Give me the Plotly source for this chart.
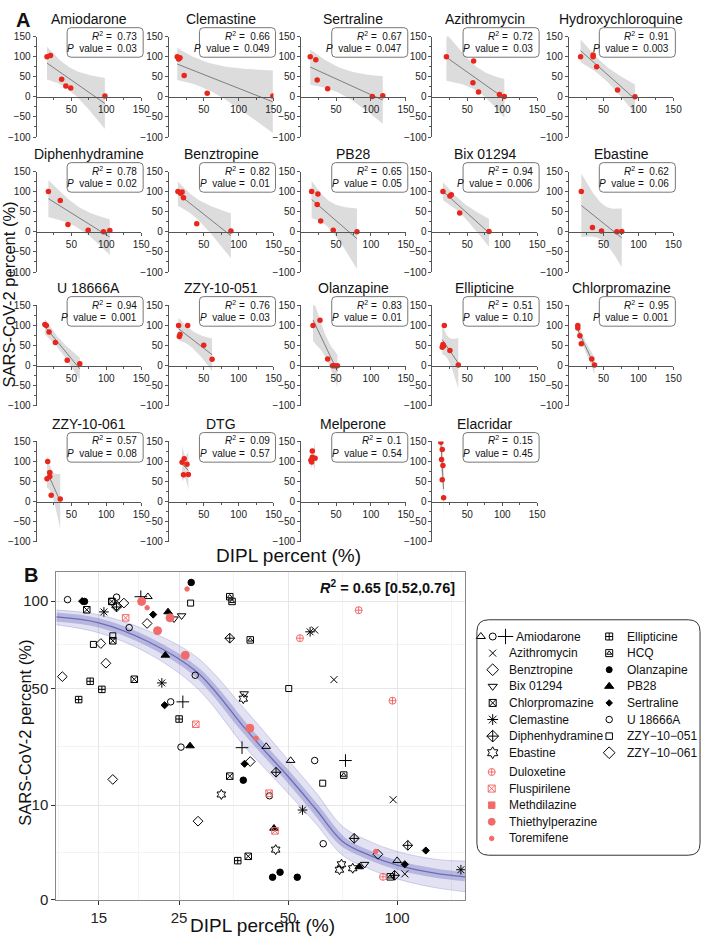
import numpy as np
import plotly.graph_objects as go

W, H = 712, 945
FONT = "Liberation Sans, Arial, sans-serif"

# ---------------- Panel A data ----------------
drugs_a = ['Amiodarone', 'Clemastine', 'Sertraline', 'Azithromycin', 'Hydroxychloroquine',
           'Diphenhydramine', 'Benztropine', 'PB28', 'Bix 01294', 'Ebastine',
           'U 18666A', 'ZZY-10-051', 'Olanzapine', 'Ellipticine', 'Chlorpromazine',
           'ZZY-10-061', 'DTG', 'Melperone', 'Elacridar']
dipl_a = [[15, 20, 36, 42, 49, 98], [12, 14, 16, 22, 55, 149], [13, 21, 23, 38, 102, 117],
          [20, 59, 58, 66, 96, 103], [17, 35, 35, 40, 70, 95],
          [17, 34, 45, 74, 96, 105], [13, 17, 19, 21, 40, 89], [15, 24, 23, 28, 46, 80],
          [15, 25, 27, 39, 81], [18, 34, 47, 69, 76],
          [12, 14, 18, 27, 44, 62], [14, 15, 16, 27, 50, 62], [17, 27, 38, 45, 48, 52],
          [14, 15, 16, 17, 25, 37], [13, 13, 16, 18, 33, 37],
          [16, 19, 19, 15, 21, 34], [19, 22, 26, 21, 28], [16, 14, 15, 16, 20],
          [12, 13, 14, 15, 14, 16]]
sars_a = [[100, 103, 44, 27, 22, 2], [100, 94, 97, 53, 9, 2], [100, 92, 42, 20, 1, 3],
          [100, 89, 35, 12, 6, 1], [100, 104, 100, 75, 17, 0],
          [100, 78, 18, 4, 0, 3], [100, 96, 99, 85, 20, 2], [100, 94, 68, 27, 4, 0],
          [100, 89, 92, 47, 1], [100, 11, 2, 0, 1],
          [103, 100, 84, 58, 14, 5], [100, 73, 78, 100, 51, 16], [100, 113, 17, 0, 0, 0],
          [46, 53, 49, 100, 38, 2], [100, 94, 75, 55, 17, 2],
          [100, 73, 63, 57, 16, 7], [98, 107, 93, 67, 68], [126, 103, 99, 111, 108],
          [148, 105, 130, 90, 55, 10]]
r2_a = ['0.73', '0.66', '0.67', '0.72', '0.91', '0.78', '0.82', '0.65', '0.94', '0.62',
        '0.94', '0.76', '0.83', '0.51', '0.95', '0.57', '0.09', '0.1', '0.15']
p_a = ['0.03', '0.049', '0.047', '0.03', '0.003', '0.02', '0.01', '0.05', '0.006', '0.06',
       '0.001', '0.03', '0.01', '0.10', '0.001', '0.08', '0.57', '0.54', '0.45']

# ---------------- Panel B data (DIPL %, SARS-CoV-2 %) ----------------
amio_tri = ([20.5, 43.5, 50.8, 100], [103, 26.3, 21.7, 1.7])
amio_circ = ([23.7, 25.3, 59.2], [43.9, 26.1, 21.7])
amio_plus = ([19.6, 25.6, 37.3, 72.0], [103, 43.9, 25.9, 21.7])
azithro = ([59.2, 66.9, 97.5, 105], [81.6, 54.3, 11.2, 0.74])
benz = ([17.6, 20.4, 39.3, 88.5], [98.7, 85.6, 21.4, 2.3])
bix = ([24.2, 25.4, 37.8, 81.3], [88.5, 90.5, 47.6, 1.4])
chlorpro = ([13.9, 16.3, 16.4, 18.8, 34.5, 38.8], [94.3, 99.8, 75.2, 54.5, 17.1, 2.1])
clemast = ([15.5, 22.4, 54.8, 57.5, 150], [92.9, 52.7, 9.0, 80.5, 1.0])
diphen = ([16.8, 34.5, 46.3, 76.1, 98.4, 107], [96.1, 76.7, 18.2, 4.2, 0.66, 3.3])
ebast = ([32.7, 37.6, 46.2, 69.3, 70.2, 75.4], [12.4, 45.3, 2.8, 1.0, 1.4, 1.1])
ellipt = ([13.2, 14.2, 15.3, 25.0, 36.3], [44.9, 53.5, 49.6, 36.6, 1.7])
hcq = ([34.5, 35.0, 39.3, 71.2, 95.7], [103, 99.8, 75.7, 17.4, 0.58])
olanz = ([13.7, 27.0, 37.6, 45.3, 47.5, 53.0], [99.8, 112.9, 16.0, 0.56, 0.84, 0.56])
pb28 = ([22.9, 23.3, 26.8, 45.7, 78.6], [67.0, 92.9, 26.5, 5.7, 1.2])
sertr = ([13.5, 21.2, 22.8, 37.9, 105, 120], [100, 91.2, 42.4, 20.7, 1.4, 2.7])
u18666a = ([12.3, 16.8, 18.2, 27.7, 44.4, 62.5], [101, 102.7, 83.0, 56.5, 12.1, 3.5])
zzy051 = ([14.5, 16.3, 16.4, 26.9, 50.2, 62.3], [73.1, 99.8, 78.1, 98.7, 50.0, 15.2])
zzy061 = ([11.9, 15.2, 15.7, 16.4, 16.8, 28.2], [55.8, 73.6, 62.7, 16.2, 97.0, 6.9])
dulox = ([53.9, 78.3, 91.4, 97.1], [76.7, 94.0, 0.58, 44.4])
flusp = ([17.8, 27.8, 44.3, 46.0], [89.1, 34.5, 12.7, 5.3])
methd = ([], [])
thieth = ([19.7, 21.8, 23.6, 26.0, 39.2], [99.8, 81.2, 89.1, 67.0, 33.0])
toremif = ([20.4, 26.3, 40.8, 87.3], [95.6, 108.3, 29.2, 2.6])

# fitted curve band
curve_x = [11.45, 15, 20.5, 28, 37.6, 41.7, 50, 59.6, 70.7, 84, 100, 127, 154]
curve_mid = [89.7, 86.0, 74.8, 58.1, 33.7, 26.8, 17.0, 9.2, 3.8, 2.2, 1.33, 0.79, 0.58]
curve_lo = [84.8, 79.9, 68.1, 50.3, 26.8, 21.0, 12.7, 6.5, 2.2, 1.05, 0.48, 0.16, 0.07]
curve_hi = [94.1, 91.1, 81.2, 65.9, 41.4, 33.7, 21.9, 12.9, 6.0, 3.8, 2.6, 1.83, 1.66]

b_xticks = [15, 25, 50, 100]
b_yticks = [0, 10, 50, 100]

RED_A = '#e8261c'
RED_B = '#f26b6b'
T975 = {1: 12.706, 2: 4.303, 3: 3.182, 4: 2.776, 5: 2.571}

fig = go.Figure()


def px_x(x):
    return x / W


def px_y(y):
    return 1 - y / H


def rrect(x0, y0, x1, y1, r, color='#666', width=1):
    p = (f"M {px_x(x0 + r)},{px_y(y0)} L {px_x(x1 - r)},{px_y(y0)} "
         f"Q {px_x(x1)},{px_y(y0)} {px_x(x1)},{px_y(y0 + r)} L {px_x(x1)},{px_y(y1 - r)} "
         f"Q {px_x(x1)},{px_y(y1)} {px_x(x1 - r)},{px_y(y1)} L {px_x(x0 + r)},{px_y(y1)} "
         f"Q {px_x(x0)},{px_y(y1)} {px_x(x0)},{px_y(y1 - r)} L {px_x(x0)},{px_y(y0 + r)} "
         f"Q {px_x(x0)},{px_y(y0)} {px_x(x0 + r)},{px_y(y0)} Z")
    return dict(type='path', path=p, xref='paper', yref='paper',
                line=dict(color=color, width=width))


def fit_band(x, y):
    x = np.array(x, float)
    y = np.array(y, float)
    n = len(x)
    b, a = np.polyfit(x, y, 1)
    xs = np.linspace(x.min(), x.max(), 40)
    res = y - (a + b * x)
    s = np.sqrt((res ** 2).sum() / (n - 2))
    sxx = ((x - x.mean()) ** 2).sum()
    half = T975[n - 2] * s * np.sqrt(1 / n + (xs - x.mean()) ** 2 / sxx)
    yh = a + b * xs
    return xs, yh, yh - half, yh + half


col_px = [37, 171, 305, 438, 576]
row_px = [31, 168, 304, 442]
AW, AH = 106, 102

shapes = []
annots = []


def txt(x, y, t, size, **kw):
    d = dict(x=px_x(x), y=px_y(y), xref='paper', yref='paper', text=t, showarrow=False,
             font=dict(size=size, color='#111'), xanchor='center', yanchor='middle')
    d.update(kw)
    annots.append(d)


for i, name in enumerate(drugs_a):
    r, c = i // 5, i % 5
    n = i + 1
    xa, ya = f'x{n}', f'y{n}'
    x0, y0 = col_px[c], row_px[r]
    xs, yh, lo, hi = fit_band(dipl_a[i], sars_a[i])
    fig.add_trace(go.Scatter(x=xs, y=hi, mode='lines', line=dict(width=0),
                             xaxis=xa, yaxis=ya, hoverinfo='skip', showlegend=False))
    fig.add_trace(go.Scatter(x=xs, y=lo, mode='lines', line=dict(width=0), fill='tonexty',
                             fillcolor='rgba(205,205,205,0.7)',
                             xaxis=xa, yaxis=ya, hoverinfo='skip', showlegend=False))
    fig.add_trace(go.Scatter(x=xs, y=yh, mode='lines', line=dict(color='#666', width=0.8),
                             xaxis=xa, yaxis=ya, hoverinfo='skip', showlegend=False))
    fig.add_trace(go.Scatter(x=dipl_a[i], y=sars_a[i], mode='markers',
                             marker=dict(color=RED_A, size=5.5),
                             xaxis=xa, yaxis=ya, showlegend=False))
    dom_x = [px_x(x0), px_x(x0 + AW)]
    dom_y = [px_y(y0 + AH), px_y(y0)]
    key = '' if n == 1 else str(n)
    fig.layout['xaxis' + key] = dict(
        domain=dom_x, range=[0, 150], anchor='free',
        position=dom_y[0] + 0.4 * (dom_y[1] - dom_y[0]),
        tickvals=[50, 100, 150], ticks='outside', ticklen=3, tickcolor='#555',
        showline=True, linecolor='#555', linewidth=1, showgrid=False, zeroline=False,
        tickfont=dict(size=10, color='#222'),
        minor=dict(tickvals=[25, 75, 125], ticks='outside', ticklen=2, tickcolor='#555'))
    fig.layout['yaxis' + key] = dict(
        domain=dom_y, range=[-100, 150], anchor=xa,
        tickvals=[-100, -50, 0, 50, 100, 150], ticks='outside', ticklen=3, tickcolor='#555',
        showline=True, linecolor='#555', linewidth=1, showgrid=False, zeroline=False,
        tickfont=dict(size=10, color='#222'),
        minor=dict(dtick=25, ticks='outside', ticklen=2, tickcolor='#555'))
    txt(x0 + 53, y0 - 18, name, 14)
    bx0, bx1, by0, by1 = x0 + 31, x0 + 108, y0 - 9, y0 + 21
    shapes.append(rrect(bx0, by0, bx1, by1, 4, '#777', 1))
    txt(bx1 - 4, by0 + 8, f"<i>R</i><sup>2</sup> =  {r2_a[i]}", 10, xanchor='right')
    txt(bx1 - 4, by0 + 21, f"<i>P</i>  value =  {p_a[i]}", 10, xanchor='right')

txt(14, 14, '<b>A</b>', 20, xanchor='left')
txt(9, 293, 'SARS-CoV-2 percent (%)', 16.5, textangle=-90)
txt(292, 558, 'DIPL percent (%)', 19)
txt(22, 578, '<b>B</b>', 20, xanchor='left')
txt(25, 738, 'SARS-CoV-2 percent (%)', 16.5, textangle=-90)
txt(266, 933, 'DIPL percent (%)', 19)
txt(463, 590, '<b><i>R</i><sup>2</sup> = 0.65 [0.52,0.76]</b>', 14.5, xanchor='right')

# ---------------- Panel B ----------------
bx, by = 'x20', 'y20'
fig.add_trace(go.Scatter(x=curve_x, y=np.sqrt(curve_hi), mode='lines',
                         line=dict(color='rgba(120,120,200,0.45)', width=0.7, shape='spline'),
                         xaxis=bx, yaxis=by, hoverinfo='skip', showlegend=False))
fig.add_trace(go.Scatter(x=curve_x, y=np.sqrt(curve_lo), mode='lines', fill='tonexty',
                         fillcolor='rgba(125,125,200,0.22)',
                         line=dict(color='rgba(120,120,200,0.45)', width=0.7, shape='spline'),
                         xaxis=bx, yaxis=by, hoverinfo='skip', showlegend=False))
fig.add_trace(go.Scatter(x=curve_x, y=np.sqrt(curve_mid), mode='lines',
                         line=dict(color='rgba(100,100,185,0.35)', width=9, shape='spline'),
                         xaxis=bx, yaxis=by, hoverinfo='skip', showlegend=False))
fig.add_trace(go.Scatter(x=curve_x, y=np.sqrt(curve_mid), mode='lines',
                         line=dict(color='rgba(90,90,175,0.8)', width=1.3, shape='spline'),
                         xaxis=bx, yaxis=by, hoverinfo='skip', showlegend=False))

b_styles = [
    (amio_tri, 'triangle-up-open', 'black', 7.5),
    (amio_circ, 'circle-open', 'black', 6.5),
    (amio_plus, 'cross-thin-open', 'black', 9),
    (azithro, 'x-thin-open', 'black', 7),
    (benz, 'diamond-open', 'black', 7.5),
    (bix, 'triangle-down-open', 'black', 7.5),
    (chlorpro, 'square-x-open', 'black', 6.5),
    (clemast, 'asterisk-open', 'black', 8),
    (diphen, 'diamond-cross-open', 'black', 7.5),
    (ebast, 'hexagram-open', 'black', 7.5),
    (ellipt, 'square-cross-open', 'black', 6.5),
    (hcq, 'square-open', 'black', 6.5),
    (hcq, 'triangle-up-open', 'black', 4.5),
    (olanz, 'circle', 'black', 6.5),
    (pb28, 'triangle-up', 'black', 7.5),
    (sertr, 'diamond', 'black', 5.5),
    (u18666a, 'circle-open', 'black', 6.5),
    (zzy051, 'square-open', 'black', 6),
    (zzy061, 'diamond-open', 'black', 7.5),
    (dulox, 'circle-cross-open', RED_B, 7),
    (flusp, 'square-x-open', RED_B, 6.5),
    (methd, 'square', RED_B, 6.5),
    (thieth, 'circle', RED_B, 8),
    (toremif, 'circle', RED_B, 4.5),
]
for (xv, yv), sym, col, sz in b_styles:
    fig.add_trace(go.Scatter(x=xv, y=np.sqrt(np.array(yv, float)), mode='markers',
                             marker=dict(symbol=sym, color=col, size=sz,
                                         line=dict(color=col, width=1)),
                             xaxis=bx, yaxis=by, showlegend=False))

fig.layout['xaxis20'] = dict(
    domain=[px_x(57), px_x(471)], type='log', range=[np.log10(11.45), np.log10(154)],
    anchor='y20', tickvals=b_xticks, ticktext=[str(v) for v in b_xticks],
    ticks='outside', ticklen=4, tickcolor='#333', tickfont=dict(size=15, color='#222'),
    showline=True, linecolor='#888', linewidth=1, mirror=True,
    showgrid=True, gridcolor='#e6e6e6', gridwidth=1, zeroline=False,
    minor=dict(tickvals=[11.6, 19.36, 35.36, 70.71, 141.4], showgrid=True,
               gridcolor='#f3f3f3', ticks=''))
fig.layout['yaxis20'] = dict(
    domain=[px_y(907), px_y(575)], range=[0, 10.96], anchor='x20',
    tickvals=list(np.sqrt(b_yticks)), ticktext=[str(v) for v in b_yticks],
    ticks='outside', ticklen=4, tickcolor='#333', tickfont=dict(size=15, color='#222'),
    showline=True, linecolor='#888', linewidth=1, mirror=True,
    showgrid=True, gridcolor='#e6e6e6', gridwidth=1, zeroline=False,
    minor=dict(tickvals=[1.581, 5.117, 8.536], showgrid=True, gridcolor='#f3f3f3', ticks=''))

# ---------------- Legend for panel B ----------------
lx, ly = 'x21', 'y21'
fig.layout['xaxis21'] = dict(domain=[px_x(480), px_x(712)], range=[480, 712], visible=False,
                             anchor='y21', fixedrange=True)
fig.layout['yaxis21'] = dict(domain=[px_y(870), px_y(620)], range=[870, 620], visible=False,
                             anchor='x21', fixedrange=True)
shapes.append(rrect(483, 623, 709, 862, 12, '#333', 1))

leg_col1 = [('Azithromycin', 'x-thin-open', 7), ('Benztropine', 'diamond-open', 9),
            ('Bix 01294', 'triangle-down-open', 8), ('Chlorpromazine', 'square-x-open', 7),
            ('Clemastine', 'asterisk-open', 9), ('Diphenhydramine', 'diamond-cross-open', 9),
            ('Ebastine', 'hexagram-open', 9)]
leg_col2 = [('Ellipticine', 'square-cross-open', 7), ('HCQ', 'square-open', 7),
            ('Olanzapine', 'circle', 6), ('PB28', 'triangle-up', 8), ('Sertraline', 'diamond', 5),
            ('U 18666A', 'circle-open', 6.5), ('ZZY\u221210\u2212051', 'square-open', 6.5),
            ('ZZY\u221210\u2212061', 'diamond-open', 9)]
leg_red = [('Duloxetine', 'circle-cross-open', 7), ('Fluspirilene', 'square-x-open', 7),
           ('Methdilazine', 'square', 6.5), ('Thiethylperazine', 'circle', 7),
           ('Toremifene', 'circle', 4.5)]
row_h = 16.85


def leg_marker(x, y, sym, col, sz):
    fig.add_trace(go.Scatter(x=[x], y=[y], mode='markers',
                             marker=dict(symbol=sym, color=col, size=sz,
                                         line=dict(color=col, width=1)),
                             xaxis=lx, yaxis=ly, hoverinfo='skip', showlegend=False))


def leg_text(x, y, t):
    annots.append(dict(x=x, y=y, xref=lx, yref=ly, text=t, showarrow=False,
                       xanchor='left', yanchor='middle', font=dict(size=12, color='#111')))


leg_marker(487, 640, 'triangle-up-open', 'black', 8)
leg_marker(499, 640, 'circle-open', 'black', 7)
leg_marker(512, 640, 'cross-thin-open', 'black', 11)
leg_text(521, 640, 'Amiodarone')
for j, (t, sym, sz) in enumerate(leg_col1):
    yy = 640 + (j + 1) * row_h
    leg_marker(499, yy, sym, 'black', sz)
    leg_text(513, yy, t)
for j, (t, sym, sz) in enumerate(leg_col2):
    yy = 640 + j * row_h
    leg_marker(617, yy, sym, 'black', sz)
    if t == 'HCQ':
        leg_marker(617, yy, 'triangle-up-open', 'black', 4.5)
    leg_text(633, yy, t)
for j, (t, sym, sz) in enumerate(leg_red):
    yy = 777.5 + j * row_h
    leg_marker(498, yy, sym, RED_B, sz)
    leg_text(513, yy, t)

fig.update_layout(
    width=W, height=H, margin=dict(l=0, r=0, t=0, b=0),
    paper_bgcolor='white', plot_bgcolor='white',
    font=dict(family=FONT, color='#111'),
    shapes=shapes, annotations=annots, showlegend=False,
)

fig.write_html("out.html", config={'displayModeBar': False},
               post_script="document.body.style.margin='0';document.body.style.overflow='hidden';")
